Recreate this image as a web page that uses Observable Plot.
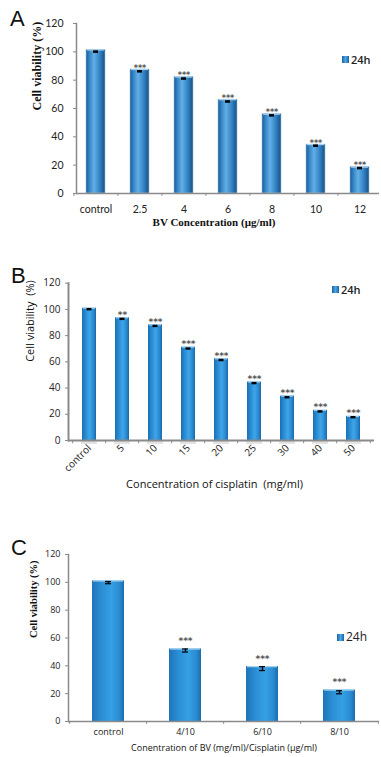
<!DOCTYPE html>
<html><head><meta charset="utf-8">
<script src="https://cdn.jsdelivr.net/npm/d3@7"></script>
<script src="https://cdn.jsdelivr.net/npm/@observablehq/plot@0.6"></script>
<style>
body{margin:0;background:#fff;}
#wrap{position:relative;width:381px;height:757px;overflow:hidden;background:#fff;}
.panel{position:absolute;left:0;}
.plabel{position:absolute;font-family:"Liberation Sans",Arial,sans-serif;font-size:22px;color:#111;line-height:1;}
.leg{position:absolute;display:flex;align-items:center;font-family:"Open Sans",sans-serif;color:#222;line-height:1;}
.leg i{display:inline-block;margin-right:2px;background:linear-gradient(90deg,#1a62a3,#4aa6e6,#1a62a3);}
</style></head>
<body><div id="wrap"></div>
<script>
// ---- Panel A: BV ----
const catA = ["control","2.5","4","6","8","10","12"];
const valA = [101.3, 87.5, 82.2, 66.2, 56, 34.5, 18.6];
const meanA = [99.8, 85.9, 80.8, 64.6, 54.8, 33.4, 17.6];
const sdA = [0.9, 0.9, 0.9, 0.9, 0.9, 0.9, 0.9];
const sigA = ["", "***", "***", "***", "***", "***", "***"];
// ---- Panel B: cisplatin ----
const catB = ["control","5","10","15","20","25","30","40","50"];
const valB = [100.9, 93.6, 88.2, 71.2, 62.3, 44.6, 33.9, 23, 18.4];
const meanB = [99.8, 92.4, 87, 69.8, 61, 43.4, 32.6, 21.8, 17.4];
const sdB = [0.9, 0.9, 0.9, 0.9, 0.9, 0.9, 0.9, 0.9, 0.9];
const sigB = ["", "**", "***", "***", "***", "***", "***", "***", "***"];
// ---- Panel C: combination ----
const catC = ["control","4/10","6/10","8/10"];
const valC = [101, 52.1, 39.4, 22.6];
const meanC = [99.8, 51, 38, 21];
const sdC = [0.8, 1.1, 1.4, 1.1];
const sigC = ["", "***", "***", "***"];
const yTicks = [0, 20, 40, 60, 80, 100, 120];
const seriesName = "24h";

const wrap = document.getElementById("wrap");

function gradDefs(svg, id, stops) {
  const ns = "http://www.w3.org/2000/svg";
  const defs = document.createElementNS(ns, "defs");
  const g = document.createElementNS(ns, "linearGradient");
  g.setAttribute("id", id);
  g.setAttribute("x1", "0"); g.setAttribute("x2", "1"); g.setAttribute("y1", "0"); g.setAttribute("y2", "0");
  for (const [o, c] of stops) {
    const s = document.createElementNS(ns, "stop");
    s.setAttribute("offset", o); s.setAttribute("stop-color", c);
    g.appendChild(s);
  }
  defs.appendChild(g);
  svg.insertBefore(defs, svg.firstChild);
}

function panel(o) {
  const data = o.cats.map((c, i) => ({c, v: o.vals[i], m: o.means[i], sd: o.sds[i], s: o.sig[i]}));
  const n = o.cats.length;
  const step = (381 - o.ml - o.mr) / (n - o.pi + 2 * o.po);
  const marks = [
    Plot.barY(data, {x: "c", y: "v", fill: `url(#${o.gid})`, stroke: o.barStroke, strokeWidth: 0.6}),
    Plot.tickY(data, {x: "c", y: "v", stroke: o.topColor, strokeWidth: 1.2, insetLeft: 1, insetRight: 1}),
    Plot.ruleY([0], {stroke: o.axisColor, strokeWidth: o.axisWidth}),
    Plot.frame({anchor: "left", stroke: o.axisColor, strokeWidth: o.axisWidth}),
    Plot.ruleX(data, {x: "c", y1: 0, y2: -o.bTick, dx: -step / 2, stroke: o.axisColor, strokeWidth: 1}),
    Plot.ruleX(data.slice(-1), {x: "c", y1: 0, y2: -o.bTick, dx: step / 2, stroke: o.axisColor, strokeWidth: 1}),
    Plot.axisY({ticks: yTicks, tickSize: 3, tickPadding: o.yPad, fontSize: o.yFont, fontFamily: o.tickFamily, fill: "#222", stroke: o.axisColor, label: null}),
    Plot.axisX({tickSize: 0, tickPadding: o.xPad, fontSize: o.xFont, fontFamily: o.tickFamily, fill: "#222", label: null, tickRotate: o.xRotate || 0}),
    Plot.text(data.filter(d => d.s), {x: "c", y: "v", text: "s", dy: o.starDy, fontSize: o.starFont, fill: "#555", fontWeight: "bold", fontFamily: "DejaVu Sans", letterSpacing: o.starSpacing, lineAnchor: "bottom"}),
    Plot.text([o.ylabel], {frameAnchor: "left", rotate: -90, dx: o.ylabelDx, dy: o.ylabelDy || 0, fontSize: o.ylabelFont, fontFamily: o.ylabelFamily, fontWeight: o.ylabelWeight, fill: "#111"}),
    Plot.text([o.xlabel], {frameAnchor: "bottom", dy: o.xlabelDy, dx: o.xlabelDx, fontSize: o.xlabelFont, fontFamily: o.xlabelFamily, fontWeight: o.xlabelWeight, fill: "#111"})
  ];
  if (o.shadow) marks.unshift(Plot.barY(data, {x: "c", y1: 0, y2: -3, fill: "#a0a0a0", fillOpacity: 0.3, insetLeft: -1, insetRight: -1}));
  if (o.caps) {
    marks.push(Plot.ruleX(data, {x: "c", y1: d => d.m - d.sd, y2: d => d.m + d.sd, stroke: "#000", strokeWidth: 1.5}));
    marks.push(Plot.tickY(data, {x: "c", y: d => d.m - d.sd, stroke: "#000", strokeWidth: 1.2, insetLeft: o.errInset, insetRight: o.errInset}));
    marks.push(Plot.tickY(data, {x: "c", y: d => d.m + d.sd, stroke: "#000", strokeWidth: 1.2, insetLeft: o.errInset, insetRight: o.errInset}));
  } else {
    marks.push(Plot.rect(data, {x: "c", y1: d => d.m - d.sd, y2: d => d.m + d.sd, fill: "#000", insetLeft: o.errInset, insetRight: o.errInset}));
  }
  const svg = Plot.plot({
    width: 381, height: o.height,
    marginLeft: o.ml, marginRight: o.mr, marginTop: o.mt, marginBottom: o.mb,
    style: {background: "transparent", overflow: "visible"},
    x: {domain: o.cats, paddingInner: o.pi, paddingOuter: o.po},
    y: {domain: [0, 120]},
    marks
  });
  gradDefs(svg, o.gid, o.stops);
  svg.classList.add("panel");
  svg.style.top = o.top + "px";
  wrap.appendChild(svg);
}

panel({
  cats: catA, vals: valA, means: meanA, sds: sdA, sig: sigA, gid: "gA",
  top: 0, height: 235, ml: 76, mr: 2, mt: 23, mb: 42, pi: 0.56, po: 0.21, bTick: 2,
  stops: [[0, "#1a5a95"], [0.18, "#3585c6"], [0.42, "#62b0e6"], [0.72, "#3383c4"], [1, "#174f86"]],
  barStroke: "#9cc2de", topColor: "#a9d3f0", axisColor: "#8a8a8a", axisWidth: 1.5,
  yPad: 10, yFont: 10.5, xPad: 12, xFont: 10.5, tickFamily: "Lato, 'Open Sans', sans-serif",
  starDy: 1, starFont: 8, starSpacing: 0.5, errInset: 7,
  ylabel: "Cell viability (%)", ylabelDx: -39, ylabelDy: 2, ylabelFont: 12, ylabelFamily: "'Liberation Serif', serif", ylabelWeight: "bold",
  xlabel: "BV Concentration (µg/ml)", xlabelDy: 32, xlabelDx: -14, xlabelFont: 11, xlabelFamily: "'Liberation Serif', serif", xlabelWeight: "bold"
});

panel({
  cats: catB, vals: valB, means: meanB, sds: sdB, sig: sigB, gid: "gB",
  top: 258, height: 237, ml: 68, mr: 7, mt: 24.7, mb: 55, pi: 0.585, po: 0.33, bTick: 2.5,
  stops: [[0, "#1c6fb3"], [0.3, "#2b8fd6"], [0.55, "#40a5e8"], [0.8, "#2a8cd3"], [1, "#1a68a8"]],
  barStroke: "none", topColor: "#9fd0f2", axisColor: "#8a8a8a", axisWidth: 2, shadow: true,
  yPad: 5, yFont: 10, xPad: 6, xFont: 10, tickFamily: "'Open Sans', sans-serif", xRotate: -45,
  starDy: 0, starFont: 9, starSpacing: 1.5, errInset: 4.5,
  ylabel: "Cell viability  (%)", ylabelDx: -38, ylabelFont: 11, ylabelFamily: "'Open Sans', sans-serif", ylabelWeight: "normal",
  xlabel: "Concentration of cisplatin  (mg/ml)", xlabelDy: 47, xlabelDx: -7, xlabelFont: 11, xlabelFamily: "'Open Sans', sans-serif", xlabelWeight: "normal"
});

panel({
  cats: catC, vals: valC, means: meanC, sds: sdC, sig: sigC, gid: "gC", caps: true,
  top: 528, height: 229, ml: 68, mr: 2, mt: 26, mb: 36, pi: 0.58, po: 0.29, bTick: 2,
  stops: [[0, "#1f74b8"], [0.3, "#2b8fd5"], [0.6, "#35a0e3"], [0.85, "#2a8cd2"], [1, "#1d6cac"]],
  barStroke: "none", topColor: "#a7d6f4", axisColor: "#8a8a8a", axisWidth: 1.5,
  yPad: 5, yFont: 9, xPad: 7.5, xFont: 9, tickFamily: "'Open Sans', sans-serif",
  starDy: -5, starFont: 9, starSpacing: 1.5, errInset: 13,
  ylabel: "Cell viability (%)", ylabelDx: -35, ylabelFont: 10.5, ylabelFamily: "'Liberation Serif', serif", ylabelWeight: "bold",
  xlabel: "Conentration of BV (mg/ml)/Cisplatin (µg/ml)", xlabelDy: 29.5, xlabelDx: 0, xlabelFont: 9, xlabelFamily: "'Open Sans', sans-serif", xlabelWeight: "normal"
});

// panel letters
[["A", 10, 8], ["B", 11, 265], ["C", 11, 537]].forEach(([t, x, y]) => {
  const d = document.createElement("div");
  d.className = "plabel"; d.textContent = t; d.style.left = x + "px"; d.style.top = y + "px";
  wrap.appendChild(d);
});
// legends
[[342, 54, 7, 11, "600"], [332, 284, 7, 11, "600"], [337, 631, 7, 12, "normal"]].forEach(([x, y, s, fs, fw]) => {
  const d = document.createElement("div");
  d.className = "leg"; d.style.left = x + "px"; d.style.top = y + "px"; d.style.fontSize = fs + "px"; d.style.fontWeight = fw;
  const i = document.createElement("i"); i.style.width = s + "px"; i.style.height = s + "px";
  d.appendChild(i); d.appendChild(document.createTextNode(seriesName));
  wrap.appendChild(d);
});
</script>
</body></html>
